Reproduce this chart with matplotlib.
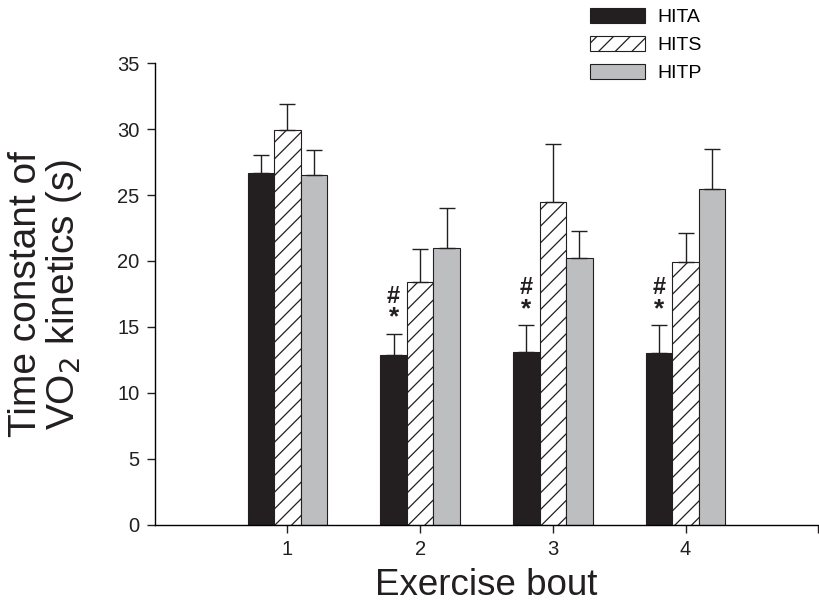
import numpy as np
import matplotlib
matplotlib.use("Agg")
import matplotlib.pyplot as plt

plt.rcParams["font.family"] = ["Liberation Sans", "DejaVu Sans"]
plt.rcParams["hatch.linewidth"] = 0.9

bouts = [1, 2, 3, 4]
groups = ["HITA", "HITS", "HITP"]

hita = [26.7, 12.9, 13.1, 13.0]
hits = [29.9, 18.4, 24.5, 19.95]
hitp = [26.5, 21.0, 20.25, 25.45]

hita_err = [1.3, 1.6, 2.05, 2.15]
hits_err = [2.0, 2.5, 4.4, 2.15]
hitp_err = [1.9, 3.0, 2.05, 3.05]

# bouts that carry the "#" / "*" marks above HITA
marked = [2, 3, 4]

BAR_W = 0.2
INK = "#231f20"

fig = plt.figure(figsize=(8.19, 6.13), dpi=100)
ax = fig.add_axes([0.189, 0.1436, 0.810, 0.7536])

x = np.array(bouts, dtype=float)
err_kw = dict(ecolor=INK, elinewidth=1.0, capsize=6, capthick=1.0)
zeros = np.zeros(len(bouts))

ax.bar(x - BAR_W, hita, BAR_W, color=INK, edgecolor=INK,
       linewidth=0.8, yerr=[zeros, hita_err], error_kw=err_kw,
       label=groups[0], zorder=2)
ax.bar(x, hits, BAR_W, color="white", edgecolor=INK, hatch="//",
       linewidth=0.8, yerr=[zeros, hits_err], error_kw=err_kw,
       label=groups[1], zorder=2)
ax.bar(x + BAR_W, hitp, BAR_W, color="#bcbec0", edgecolor=INK,
       linewidth=0.8, yerr=[zeros, hitp_err], error_kw=err_kw,
       label=groups[2], zorder=2)

for b in marked:
    i = bouts.index(b)
    top = hita[i] + hita_err[i]
    ax.text(b - BAR_W, top + 0.3, "*", ha="center", va="bottom",
            fontsize=19, fontweight="bold", color=INK)
    ax.text(b - BAR_W, top + 1.95, "#", ha="center", va="bottom",
            fontsize=17, fontweight="bold", color=INK)

ax.set_xlim(0, 5)
ax.set_ylim(0, 35)
ax.set_yticks(np.arange(0, 36, 5))
ax.set_xticks([1, 2, 3, 4, 5])
ax.set_xticklabels(["1", "2", "3", "4", ""])
ax.tick_params(axis="both", labelsize=14.5, length=5.5, width=1,
               direction="out", colors=INK, pad=5.5)
ax.spines["top"].set_visible(False)
ax.spines["right"].set_visible(False)
ax.spines["left"].set_linewidth(1)
ax.spines["bottom"].set_linewidth(1)

ax.set_xlabel("Exercise bout", fontsize=26.5, labelpad=6, color=INK)
ax.set_ylabel("Time constant of\nVO$_2$ kinetics (s)", fontsize=28,
              labelpad=24, linespacing=1.0, color=INK)

leg = fig.legend(loc="upper left", bbox_to_anchor=(590 / 819, 1 - 8 / 613),
                 frameon=False, fontsize=14, handlelength=2.85,
                 handleheight=0.82, labelspacing=0.5, handletextpad=0.6,
                 borderpad=0, borderaxespad=0)

fig.savefig("out.png", dpi=100)
